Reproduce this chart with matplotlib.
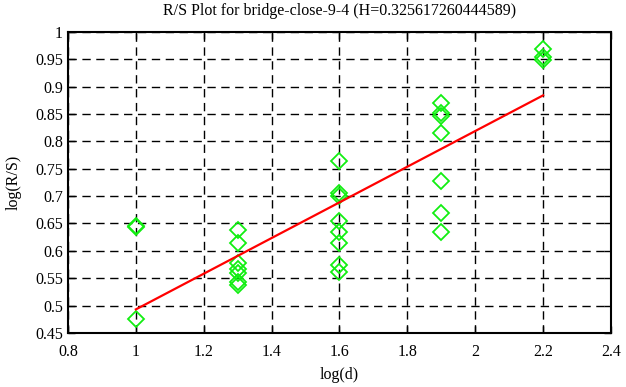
import numpy as np
import matplotlib
matplotlib.use('Agg')
import matplotlib.pyplot as plt

plt.rcParams['font.family'] = ['Liberation Serif', 'DejaVu Serif']

# log(d) values and log(R/S) values
log_d = [1.0, 1.0, 1.0,
         1.3, 1.3, 1.3, 1.3, 1.3, 1.3, 1.3,
         1.6, 1.6, 1.6, 1.6, 1.6, 1.6, 1.6, 1.6,
         1.9, 1.9, 1.9, 1.9, 1.9, 1.9, 1.9,
         2.2, 2.2, 2.2]
log_rs = [0.646, 0.643, 0.476,
          0.638, 0.614, 0.577, 0.566, 0.560, 0.543, 0.537,
          0.764, 0.705, 0.700, 0.655, 0.634, 0.614, 0.575, 0.562,
          0.870, 0.852, 0.847, 0.815, 0.728, 0.669, 0.635,
          0.968, 0.953, 0.948]

H = 0.325617260444589
intercept = 0.1675
fit_x = [1.0, 2.2]

fig = plt.figure(figsize=(6.26, 3.87), dpi=100)
ax = fig.add_axes([0.1086, 0.1395, 0.8674, 0.7785])

ax.plot(log_d, log_rs, 'D', markerfacecolor='none', markeredgecolor='#11ee11',
        markersize=8, markeredgewidth=1.3, zorder=3)
fit_y = [intercept + H * x for x in fit_x]
ax.plot(fit_x, fit_y, color='red', linewidth=1.6, zorder=4)

ax.set_xlim(0.8, 2.4)
ax.set_ylim(0.45, 1.0)
ax.set_xticks(np.arange(0.8, 2.41, 0.2))
ax.set_yticks(np.arange(0.45, 1.001, 0.05))
ax.set_xticklabels(['0.8', '1', '1.2', '1.4', '1.6', '1.8', '2', '2.2', '2.4'])
ax.set_yticklabels(['0.45', '0.5', '0.55', '0.6', '0.65', '0.7', '0.75',
                    '0.8', '0.85', '0.9', '0.95', '1'])
ax.grid(True, color='black', linestyle=(0, (6, 4)), linewidth=1.0)
ax.tick_params(direction='in', top=True, right=True, length=5, labelsize=11.5,
               width=1)
ax.tick_params(axis='x', pad=8)
for s in ax.spines.values():
    s.set_linewidth(1.5)

ax.set_title('R/S Plot for bridge-close-9-4 (H=0.325617260444589)',
             fontsize=11.5, pad=12)
ax.set_xlabel('log(d)', fontsize=11.5, labelpad=5)
ax.set_ylabel('log(R/S)', fontsize=11.5, labelpad=10)

fig.savefig('out.png', dpi=100)
